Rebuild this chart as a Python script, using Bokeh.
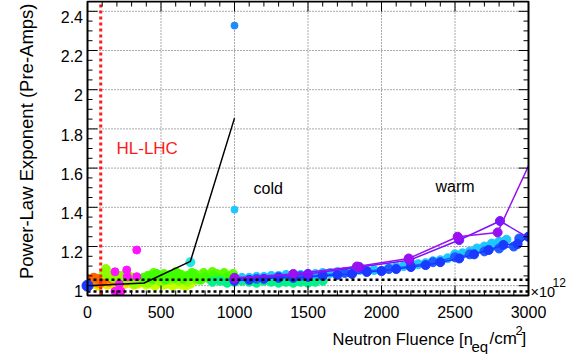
import math
from bokeh.plotting import figure
from bokeh.models import Range1d, Label
from bokeh.core.properties import value
from bokeh.embed import file_html
from bokeh.resources import INLINE

# ---------------- data: power-law exponent vs neutron fluence (x 1e12 n_eq/cm^2)
# cold measurements (scatter clouds)
orange_x = [5, 18, 32, 46, 60, 74, 88, 102, 116, 130, 144, 158, 172, 186, 200, 214, 228, 242, 256, 270, 284, 298, 312, 326, 345, 365]
orange_y = [1.025, 1.035, 1.02, 1.04, 1.03, 1.015, 1.035, 1.025, 1.04, 1.03, 1.02, 1.045, 1.03, 1.025, 1.04, 1.035, 1.02, 1.03, 1.045, 1.025, 1.035, 1.03, 1.04, 1.02, 1.03, 1.025]

redorange_x = [10, 40, 70, 100, 150, 190, 235, 280]
redorange_y = [1.03, 1.04, 1.035, 1.02, 1.04, 1.03, 1.035, 1.04]

yellow_x = [15, 45, 75, 105, 135, 165, 195, 225, 255, 285, 315, 345, 375, 405, 435, 465]
yellow_y = [1.005, 1.01, 1.0, 1.015, 1.005, 1.01, 1.02, 1.0, 1.01, 1.015, 1.005, 1.01, 1.02, 1.01, 1.015, 1.02]

yellowgreen_x = [400, 430, 460, 490, 520, 550, 580, 610, 640, 670, 700]
yellowgreen_y = [1.005, 1.01, 1.0, 1.015, 1.005, 1.01, 1.0, 1.01, 1.005, 1.0, 1.01]

lime_x = [110, 125, 150, 175, 200, 230, 260, 290, 320, 350, 380, 410, 440, 470, 500, 530, 560, 590, 620, 650, 680, 710, 740]
lime_y = [1.06, 1.085, 1.05, 1.04, 1.035, 1.05, 1.03, 1.045, 1.01, 1.03, 1.02, 1.015, 1.025, 1.035, 1.02, 1.04, 1.03, 1.05, 1.025, 1.04, 1.02, 1.045, 1.03]

green_x = [380, 410, 440, 470, 500, 530, 560, 590, 620, 650, 680, 710, 740, 770, 800, 830, 860, 890, 920, 950, 980, 1000]
green_y = [1.04, 1.05, 1.035, 1.06, 1.045, 1.03, 1.055, 1.04, 1.06, 1.035, 1.05, 1.065, 1.04, 1.03, 1.045, 1.035, 1.05, 1.04, 1.03, 1.045, 1.035, 1.04]

green_hi_x = [450, 520, 600, 640, 730, 790, 850, 880, 930, 990]
green_hi_y = [1.065, 1.06, 1.07, 1.055, 1.06, 1.065, 1.07, 1.06, 1.065, 1.06]

spring_x = [850, 900, 950, 1000, 1050, 1100, 1150, 1200, 1250, 1300, 1350, 1400, 1450, 1500, 1550, 1600]
spring_y = [1.02, 1.025, 1.015, 1.02, 1.025, 1.02, 1.015, 1.025, 1.02, 1.015, 1.02, 1.015, 1.02, 1.015, 1.02, 1.025]

magenta_x = [187, 267, 216, 187, 228, 335, 271, 335]
magenta_y = [1.071, 1.08, 1.009, 0.971, 0.971, 1.182, 1.046, 1.046]

start_x = [0]
start_y = [1.0]
knee_x = [700]
knee_y = [1.12]
high_x = [1000]
high_y = [2.327]
mid_x = [1000]
mid_y = [1.388]

# cold trend line
cold_line_x = [0, 386, 700, 1000]
cold_line_y = [1.0, 1.014, 1.124, 1.855]

# warm measurements (connected series)
purple_a_x = [1000, 1400, 1833, 2185, 2518, 2790, 3080]
purple_a_y = [1.04, 1.06, 1.098, 1.139, 1.25, 1.272, 1.74]

purple_b_x = [1000, 1500, 1850, 2190, 2529, 2806, 3100]
purple_b_y = [1.035, 1.06, 1.095, 1.13, 1.233, 1.33, 1.20]

blue_a_x = [1000, 1100, 1200, 1300, 1400, 1500, 1600, 1700, 1800, 1900, 2000, 2100, 2200, 2300, 2400, 2529, 2630, 2729, 2829, 2926, 3000]
blue_a_y = [1.025, 1.03, 1.035, 1.04, 1.04, 1.045, 1.05, 1.055, 1.06, 1.07, 1.075, 1.085, 1.095, 1.105, 1.12, 1.139, 1.16, 1.182, 1.208, 1.213, 1.25]

blue_b_x = [1000, 1150, 1300, 1450, 1600, 1750, 1900, 2050, 2200, 2350, 2500, 2600, 2700, 2800, 2900, 2937, 3000]
blue_b_y = [1.03, 1.035, 1.045, 1.05, 1.055, 1.065, 1.075, 1.085, 1.1, 1.12, 1.145, 1.16, 1.175, 1.19, 1.2, 1.241, 1.25]

cyan_x = [1000, 1050, 1100, 1150, 1200, 1250, 1300, 1350, 1400, 1450, 1500, 1550, 1600, 1650, 1700, 1750, 1800, 1850, 1900,
          1950, 2000, 2050, 2100, 2150, 2200, 2250, 2300, 2350, 2400, 2450, 2500, 2550, 2600, 2650, 2700, 2750, 2800, 2850]
cyan_y = [1.035, 1.04, 1.04, 1.045, 1.045, 1.05, 1.05, 1.055, 1.05, 1.055, 1.06, 1.06, 1.065, 1.065, 1.07, 1.07, 1.075, 1.08, 1.075,
          1.08, 1.075, 1.09, 1.095, 1.10, 1.105, 1.11, 1.115, 1.125, 1.13, 1.14, 1.16, 1.165, 1.175, 1.19, 1.2, 1.215, 1.225, 1.235]

hl_lhc_fluence = 90
band_levels = [1.03, 0.97]

x_ticks = [0, 500, 1000, 1500, 2000, 2500, 3000]
x_tick_labels = ["0", "500", "1000", "1500", "2000", "2500", "3000"]
x_minor = [v for v in range(0, 3001, 100) if v % 500]
y_ticks = [1.0, 1.2, 1.4, 1.6, 1.8, 2.0, 2.2, 2.4]
y_tick_labels = ["1", "1.2", "1.4", "1.6", "1.8", "2", "2.2", "2.4"]
y_minor = [round(0.95 + 0.05 * i, 2) for i in range(31)]
y_minor = [v for v in y_minor if v not in y_ticks]

FONT = "Liberation Sans"
W, H = 571, 354

# plotting frame in canvas pixels and its data extent
L, R, T, B = 87, 528, 1, 295
X0, X1, Y0, Y1 = 0, 3000, 0.95, 2.45
DX = (X1 - X0) / (R - L)    # data per pixel, horizontal
DY = (Y1 - Y0) / (B - T)    # data per pixel, vertical


def fx(px):
    return X0 + (px - L) * DX


def fy(py):
    return Y0 + (B - py) * DY


# the figure spans the whole canvas; axes are drawn by hand around the frame
p = figure(width=W, height=H, x_range=Range1d(fx(0), fx(W)), y_range=Range1d(fy(H), fy(0)),
           x_axis_type=None, y_axis_type=None, output_backend="svg",
           toolbar_location=None, min_border=0)
p.outline_line_color = None
p.background_fill_color = "white"
p.border_fill_color = "white"

# dotted grid
n = len(x_ticks)
p.segment(x0=x_ticks, y0=[Y0] * n, x1=x_ticks, y1=[Y1] * n,
          line_color="#555555", line_width=1, line_dash="1 2")
m = len(y_ticks)
p.segment(x0=[X0] * m, y0=y_ticks, x1=[X1] * m, y1=y_ticks,
          line_color="#555555", line_width=1, line_dash="1 2")

# cold clouds
cold = [
    (yellow_x, yellow_y, "#f0e400"),
    (orange_x, orange_y, "#ff8c00"),
    (redorange_x, redorange_y, "#ff6400"),
    (yellowgreen_x, yellowgreen_y, "#c8ff00"),
    (lime_x, lime_y, "#8cff00"),
    (green_hi_x, green_hi_y, "#5cff00"),
    (green_x, green_y, "#40ff00"),
    (spring_x, spring_y, "#00f28a"),
]
for xs, ys, c in cold:
    p.scatter(xs, ys, size=9, color=c)

# warm series
warm = [
    (cyan_x, cyan_y, "#1ec8ff"),
    (blue_b_x, blue_b_y, "#1f5bff"),
    (blue_a_x, blue_a_y, "#1a38ff"),
    (purple_b_x, purple_b_y, "#7a14ff"),
    (purple_a_x, purple_a_y, "#9a10f0"),
]
for xs, ys, c in warm:
    p.line(xs, ys, line_color=c, line_width=1.5)
    p.scatter(xs, ys, size=9, color=c)

p.scatter(magenta_x, magenta_y, size=8, color="#ff14ff")
p.scatter(knee_x, knee_y, size=9, color="#20e6e0")
p.scatter(high_x, high_y, size=7, color="#1e8cff")
p.scatter(mid_x, mid_y, size=7, color="#1ec8ff")

p.line(cold_line_x, cold_line_y, line_color="black", line_width=1.5)

# reference lines
p.segment(x0=[hl_lhc_fluence], y0=[Y0], x1=[hl_lhc_fluence], y1=[Y1],
          line_color="#ff1a1a", line_width=3, line_dash="3 3")
k = len(band_levels)
p.segment(x0=[X0] * k, y0=band_levels, x1=[X1] * k, y1=band_levels,
          line_color="black", line_width=2.5, line_dash="3 3")

# white margins hide anything running past the frame
xl, xr, yb, yt = fx(0), fx(W), fy(H), fy(0)
p.quad(left=[xl, X1, xl, xl], right=[X0, xr, xr, xr],
       bottom=[yb, yb, Y1, yb], top=[yt, yt, yt, Y0],
       fill_color="white", line_color=None)

p.scatter(start_x, start_y, size=11, color="#1a38ff")

# frame
p.quad(left=[X0], right=[X1], bottom=[Y0], top=[Y1], fill_color=None,
       line_color="black", line_width=2)

# inward ticks on all four sides
for vals, ln in ((x_ticks, 10), (x_minor, 5)):
    nv = len(vals)
    p.segment(x0=vals, y0=[Y0] * nv, x1=vals, y1=[Y0 + ln * DY] * nv, line_color="black", line_width=1)
    p.segment(x0=vals, y0=[Y1] * nv, x1=vals, y1=[Y1 - ln * DY] * nv, line_color="black", line_width=1)
for vals, ln in ((y_ticks, 10), (y_minor, 5)):
    nv = len(vals)
    p.segment(x0=[X0] * nv, y0=vals, x1=[X0 + ln * DX] * nv, y1=vals, line_color="black", line_width=1)
    p.segment(x0=[X1] * nv, y0=vals, x1=[X1 - ln * DX] * nv, y1=vals, line_color="black", line_width=1)

# tick labels
p.text(x=x_ticks, y=[Y0 - 16.5 * DY] * n, text=x_tick_labels, text_font=value(FONT),
       text_font_size="16px", text_color="black", text_align="center", text_baseline="alphabetic")
p.text(x=[X0 - 4.5 * DX] * m, y=[v - 5.7 * DY for v in y_ticks], text=y_tick_labels,
       text_font=value(FONT), text_font_size="16px", text_color="black",
       text_align="right", text_baseline="alphabetic")


def label(px, py, text, size, color="black", align="left", angle=0.0):
    p.add_layout(Label(x=fx(px), y=fy(py), text=text, text_font=FONT,
                       text_font_size=f"{size}px", text_color=color,
                       text_align=align, text_baseline="alphabetic",
                       angle=angle))


label(116, 148, "HL-LHC", 17, color="#ff1a1a")
label(253, 188, "cold", 16)
label(435, 186, "warm", 16)

# axis titles
label(26, 3, "Power-Law Exponent (Pre-Amps)", 18.5, align="right", angle=math.pi / 2)
label(332, 338, "Neutron Fluence [n", 16.5)
label(471, 346, "eq", 15)
label(489, 338, "/cm", 17)
label(515, 330, "2", 13)
label(521, 338, "]", 17)
label(530, 291, "\u00d710", 14.5)
label(552, 282, "12", 12)

open("out.html", "w").write(file_html(p, INLINE))
